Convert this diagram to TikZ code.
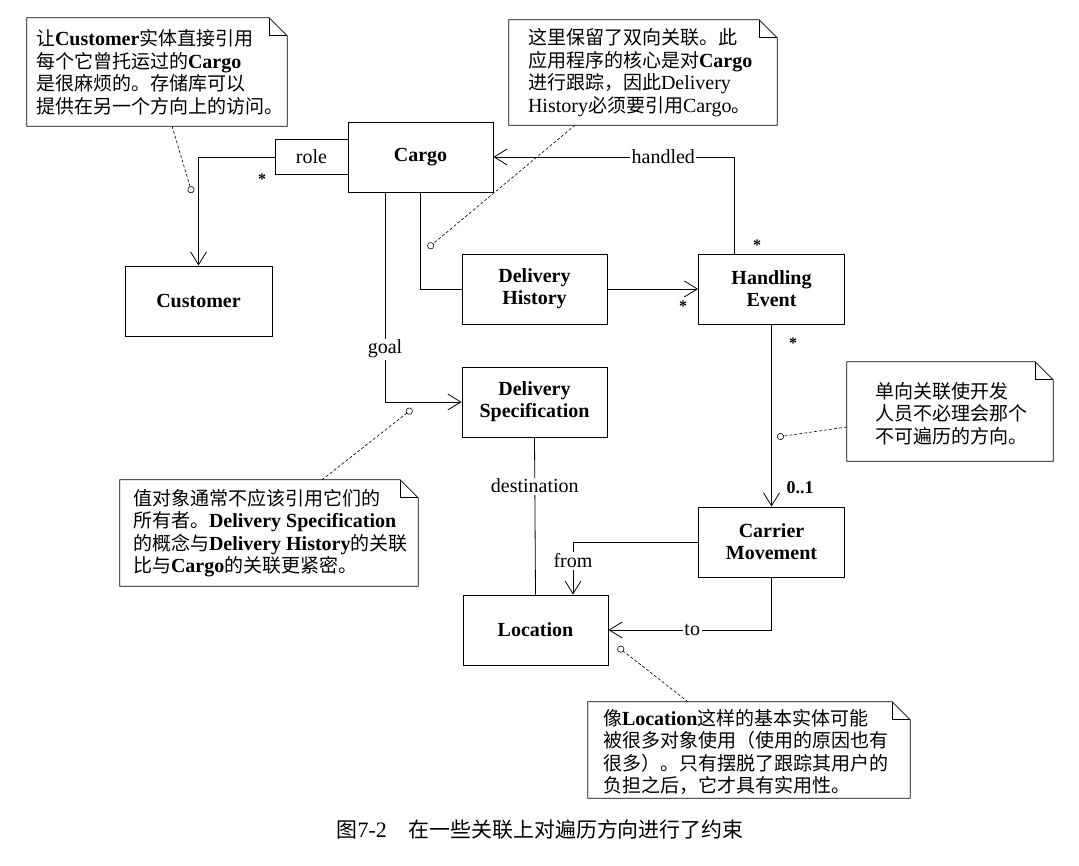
\documentclass[tikz,border=0pt]{standalone}
\usepackage{fontspec}
\setmainfont{Liberation Serif}
\newfontfamily\cjk[Scale=0.95]{Noto Sans CJK SC}
\usetikzlibrary{arrows.meta,calc}
\newcommand\C[1]{{\cjk #1}}
\newcommand\B[1]{\textbf{#1}}
\newcommand\notefold[1]{%
  \draw[noteedge] (#1.north west) -- ([xshift=-18pt]#1.north east) -- ([yshift=-18pt]#1.north east) -- (#1.south east) -- (#1.south west) -- cycle;
  \draw[noteedge] ([xshift=-18pt]#1.north east) |- ([yshift=-18pt]#1.north east);}
\begin{document}
\begin{tikzpicture}[x=1pt,y=-1pt,
  every node/.style={font=\fontsize{20}{22.5}\selectfont},
  cls/.style={draw, line width=0.9pt, minimum width=145pt, minimum height=70pt, inner sep=0pt, align=center, font=\fontsize{20}{22}\selectfont\bfseries},
  qual/.style={draw, line width=0.9pt, minimum width=73pt, minimum height=35pt, inner sep=0pt},
  assoc/.style={line width=0.8pt, -{Straight Barb[length=13pt,width=16pt]}},
  plain/.style={line width=0.8pt},
  lbl/.style={fill=white, inner sep=1.5pt},
  mult/.style={inner sep=0pt, font=\fontsize{16}{16}\selectfont\bfseries},
  notearea/.style={inner sep=0pt, draw=none},
  notetext/.style={inner sep=0pt, anchor=west, align=left, font=\fontsize{20}{22.5}\selectfont},
  noteedge/.style={line width=0.8pt},
  noteline/.style={line width=0.6pt, dash pattern=on 3pt off 2pt, -{Circle[open,length=7pt,width=7pt]}}
]
\useasboundingbox[fill=white] (0,0) rectangle (1079,866);

% classes
\node[cls] (Cargo) at (420.5,157) {Cargo};
\node[qual] (role) at (311.5,157) {role};
\node[cls, minimum width=147pt] (Customer) at (198.5,301) {Customer};
\node[cls] (DH) at (534.5,289) {Delivery\\History};
\node[cls] (DS) at (534.5,402) {Delivery\\Specification};
\node[cls, minimum width=146pt] (HE) at (771.5,289) {Handling\\Event};
\node[cls, minimum width=146pt] (CM) at (771.5,542) {Carrier\\Movement};
\node[cls] (Loc) at (535.5,630) {Location};

% associations
\draw[assoc] (role.west) -| (Customer.north);
\draw[plain] (Cargo.south) |- (DH.west);
\draw[assoc] ($(Cargo.south)+(-35.5,0)$) |- (DS.west) node[lbl, pos=0.374] {goal};
\draw[assoc] ($(HE.north)+(-37.5,0)$) |- (Cargo.east) node[lbl, pos=0.647] {handled};
\draw[assoc] (DH.east) -- (HE.west);
\draw[assoc] (HE.south) -- (CM.north);
\draw[plain] (DS.south) -- (Loc.north) node[lbl, pos=0.31] {destination};
\draw[assoc] (CM.west) -| ($(Loc.north)+(37.5,0)$) node[lbl, pos=0.68] {from};
\draw[assoc] (CM.south) |- (Loc.east) node[lbl, pos=0.743] {to};

% multiplicities
\node[mult] (m1) at (262,179) {*};
\node[mult] (m2) at (757,245) {*};
\node[mult] (m3) at (683,306) {*};
\node[mult] (m4) at (793,343) {*};
\node[mult, font=\fontsize{18}{18}\selectfont\bfseries] (m5) at (800,488) {0..1};

% notes
\node[notearea, minimum width=260pt, minimum height=108pt] (note1) at (157,72) {};
\notefold{note1}
\node[notetext] (t1) at ($(note1.west)+(9,0)$) {\C{让}\B{Customer}\C{实体直接引用}\\
\C{每个它曾托运过的}\B{Cargo}\\
\C{是很麻烦的。存储库可以}\\
\C{提供在另一个方向上的访问。}};

\node[notearea, minimum width=268pt, minimum height=105pt] (note2) at (643,72.5) {};
\notefold{note2}
\node[notetext] (t2) at ($(note2.west)+(19,0)$) {\C{这里保留了双向关联。此}\\
\C{应用程序的核心是对}\B{Cargo}\\
\C{进行跟踪，因此}Delivery\\
History\C{必须要引用}Cargo\C{。}};

\node[notearea, minimum width=298pt, minimum height=106pt] (note3) at (269,533) {};
\notefold{note3}
\node[notetext] (t3) at ($(note3.west)+(13,0)$) {\C{值对象通常不应该引用它们的}\\
\C{所有者。}\B{Delivery Specification}\\
\C{的概念与}\B{Delivery History}\C{的关联}\\
\C{比与}\B{Cargo}\C{的关联更紧密。}};

\node[notearea, minimum width=206pt, minimum height=99pt] (note4) at (950,411.5) {};
\notefold{note4}
\node[notetext] (t4) at ($(note4.west)+(28,2)$) {\C{单向关联使开发}\\
\C{人员不必理会那个}\\
\C{不可遍历的方向。}};

\node[notearea, minimum width=322pt, minimum height=96pt] (note5) at (749,750) {};
\notefold{note5}
\node[notetext] (t5) at ($(note5.west)+(15,2)$) {\C{像}\B{Location}\C{这样的基本实体可能}\\
\C{被很多对象使用（使用的原因也有}\\
\C{很多）。只有摆脱了跟踪其用户的}\\
\C{负担之后，它才具有实用性。}};

% note anchors
\coordinate (c1) at (192,193);
\coordinate (c2) at (428,248);
\coordinate (c3) at (412,409);
\coordinate (c4) at (777,437);
\coordinate (c5) at (618,647);
\draw[noteline] ($(note1.south)+(15,0)$) -- (c1);
\draw[noteline] ($(note2.south)+(-68,0)$) -- (c2);
\draw[noteline] ($(note3.north)+(53,0)$) -- (c3);
\draw[noteline] ($(note4.west)+(0,15.5)$) -- (c4);
\draw[noteline] ($(note5.north)+(-61,0)$) -- (c5);

% caption
\node[font=\fontsize{22}{24}\selectfont] (cap) at (540,830) {\C{图}7-2\hspace{1em}\C{在一些关联上对遍历方向进行了约束}};
\end{tikzpicture}
\end{document}
